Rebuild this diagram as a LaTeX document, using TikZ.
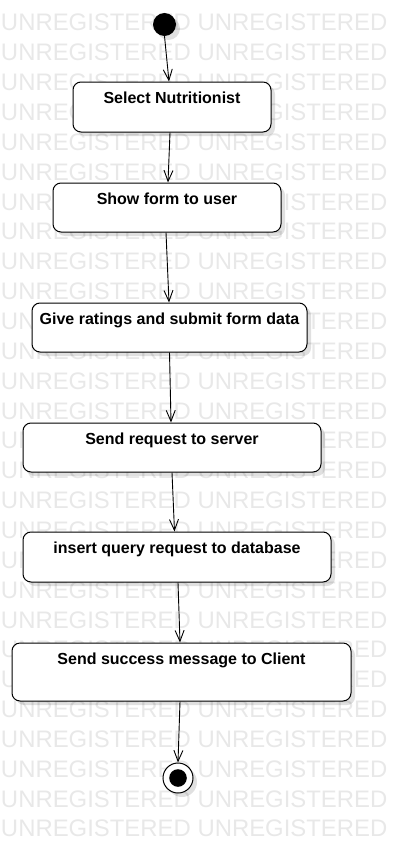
\documentclass[tikz,border=0pt]{standalone}
\usepackage{fontspec}
\setmainfont{Liberation Sans}
\usetikzlibrary{arrows.meta,shadows}

\begin{document}
\begin{tikzpicture}[
		x=1pt, y=-1pt,
		wmark/.style={anchor=base west, inner sep=0pt, text=black!9, font=\fontsize{23.9}{28}\selectfont},
		softshadow/.style={drop shadow={shadow xshift=4pt, shadow yshift=-4pt, opacity=0.12, fill=black}},
		actbox/.style={draw, line width=1pt, rounded corners=8pt, fill=white, softshadow, font=\fontsize{16}{19}\selectfont\bfseries, text height=12.2pt, inner ysep=9pt, inner xsep=0pt},
		startdot/.style={circle, fill=black, minimum size=23pt, inner sep=0pt, softshadow},
		enddot/.style={circle, draw, line width=1pt, fill=white, minimum size=30pt, inner sep=0pt, softshadow},
		flow/.style={line width=0.9pt, -{Straight Barb[length=11pt,width=9pt]}},
	]
		\useasboundingbox (0,0) rectangle (401,843);
		\foreach \k in {0,...,27}
			\node[wmark] (wm\k) at (0.8,{31+29.85*\k}) {UNREGISTERED UNREGISTERED};

		\node[startdot] (start) at (164.5,24.5) {};
		\node[actbox, minimum width=198pt, text depth=19.8pt] (sel) at (172,107) {Select Nutritionist};
		\node[actbox, minimum width=228pt, text depth=18.8pt] (form) at (167,207.5) {Show form to user};
		\node[actbox, minimum width=275pt, text depth=18.8pt] (rate) at (169.5,327.5) {Give ratings and submit form data};
		\node[actbox, minimum width=298pt, text depth=18.8pt] (req) at (172,447.5) {Send request to server};
		\node[actbox, minimum width=308pt, text depth=19.8pt] (qry) at (177,557) {insert query request to database};
		\node[actbox, minimum width=339pt, text depth=27.8pt] (msg) at (181.5,672) {Send success message to Client};
		\node[enddot] (stop) at (178,778) {};
		\fill (stop.center) circle (8.8pt);

		\draw[flow] (start.south) -- ([xshift=-3pt]sel.north);
		\draw[flow] ([xshift=-2pt]sel.south) -- ([xshift=1pt]form.north);
		\draw[flow] ([xshift=-1pt]form.south) -- ([xshift=-0.5pt]rate.north);
		\draw[flow] (rate.south) -- ([xshift=-1pt]req.north);
		\draw[flow] (req.south) -- ([xshift=-2.5pt]qry.north);
		\draw[flow] ([xshift=1pt]qry.south) -- ([xshift=-1.5pt]msg.north);
		\draw[flow] ([xshift=-1.5pt]msg.south) -- (stop.north);
	\end{tikzpicture}
\end{document}
